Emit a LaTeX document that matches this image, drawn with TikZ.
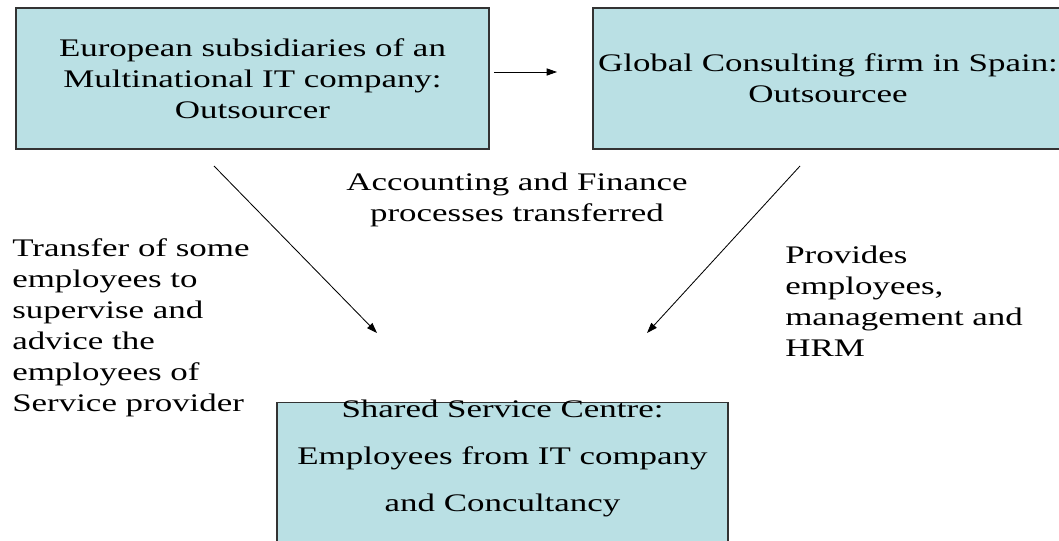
\documentclass[tikz,border=0pt]{standalone}
\usepackage{fontspec}
\setmainfont{Liberation Serif}[FakeStretch=1.38]
\usetikzlibrary{arrows.meta}
\definecolor{boxfill}{RGB}{186,224,228}

\begin{document}
\begin{tikzpicture}[
    party/.style={draw=black!80, line width=1pt, fill=boxfill, align=center,
        font=\fontsize{18}{22}\selectfont},
    flow/.style={line width=0.6pt, -{Triangle[length=0.26cm, width=0.18cm]}},
    note/.style={inner sep=0pt, font=\fontsize{18}{22}\selectfont}
]
\useasboundingbox (0,0) rectangle (26.475,13.5);

% Outsourcer and outsourcee
\node[party, minimum width=11.825cm, minimum height=3.525cm] (outsourcer) at (6.3125,11.5375)
    {European subsidiaries of an\\Multinational IT company:\\Outsourcer};
\node[party, minimum width=11.75cm, minimum height=3.525cm] (outsourcee) at (20.7,11.5375)
    {Global Consulting firm in Spain:\\Outsourcee};

% Shared service centre (runs off the bottom)
\node[party, anchor=north, minimum width=11.275cm, inner ysep=0pt,
      text height=2.725cm, text depth=0.85cm, font=\fontsize{18}{33.4}\selectfont] (ssc) at (12.5625,3.45)
    {Shared Service Centre:\\Employees from IT company\\and Concultancy};

% Arrow ends
\coordinate (hand from) at (12.35,11.7);
\coordinate (hand to) at (13.925,11.7);
\coordinate (staff from) at (5.35,9.35);
\coordinate (staff to) at (9.425,5.175);
\coordinate (hrm from) at (20.0,9.35);
\coordinate (hrm to) at (16.175,5.175);

\draw[flow] (hand from) -- (hand to);
\draw[flow] (staff from) -- (staff to);
\draw[flow] (hrm from) -- (hrm to);

% Labels
\node[note, align=center] (processes) at (12.925,8.5)
    {Accounting and Finance\\processes transferred};
\node[note, align=left, anchor=west] (supervise) at (0.3,5.305)
    {Transfer of some\\employees to\\supervise and\\advice the\\employees of\\Service provider};
\node[note, align=left, anchor=west] (provides) at (19.625,5.965)
    {Provides\\employees,\\management and\\HRM};
\end{tikzpicture}
\end{document}
